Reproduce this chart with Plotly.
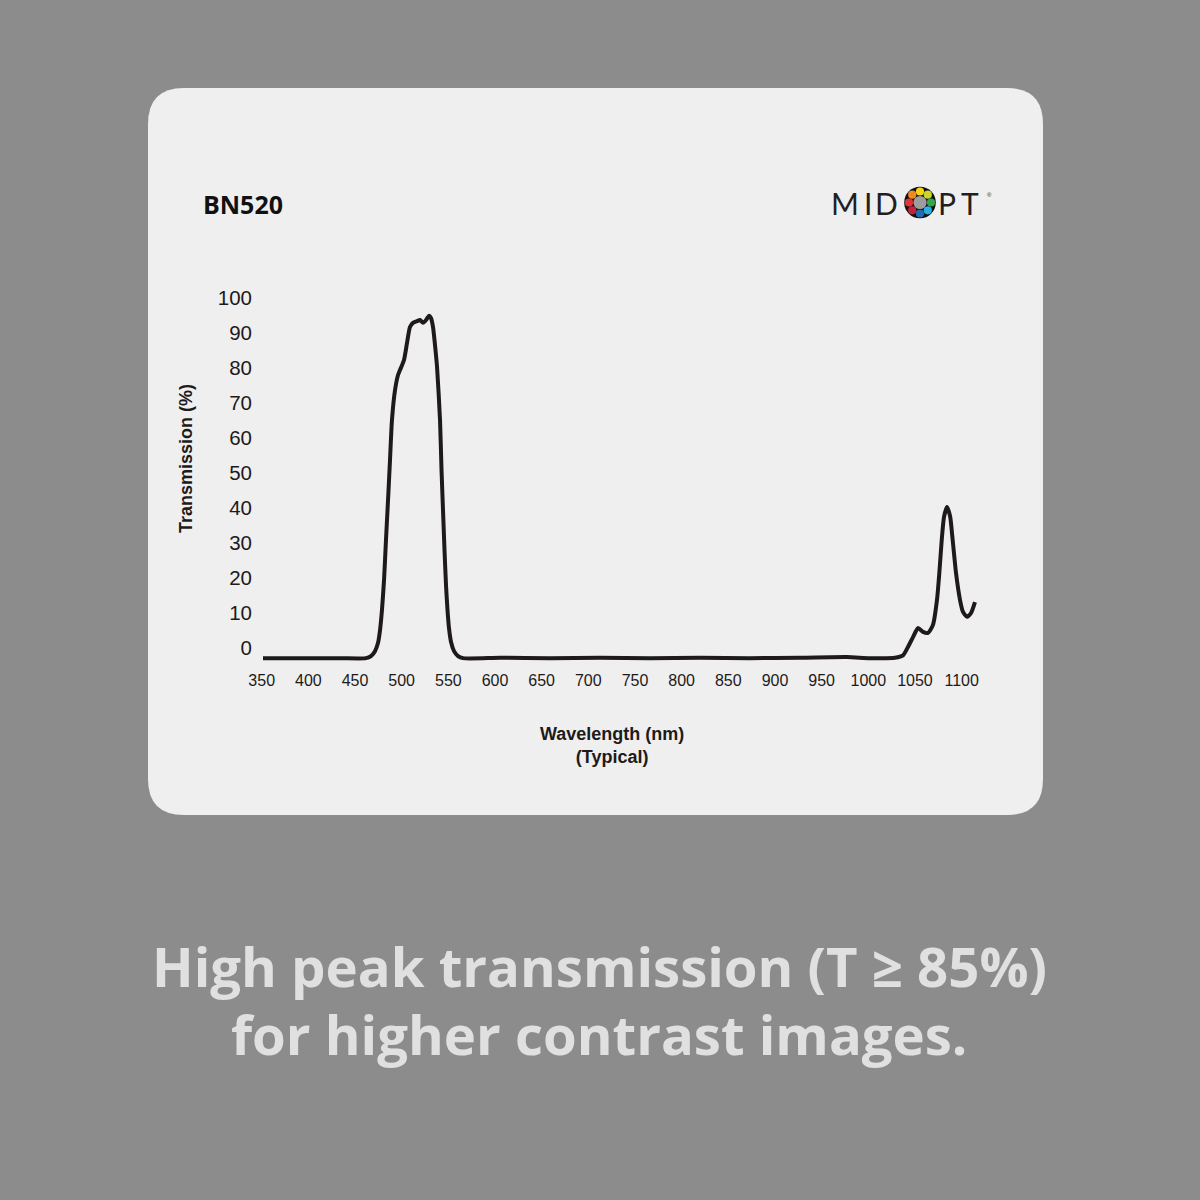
import math
import plotly.graph_objects as go

# ---------------- data ----------------
wavelength_nm = [351.4, 391.1, 433.9, 461.8, 467.1, 471.4, 474.6, 476.8, 478.9, 481.1, 483.2,
                 485.4, 487.5, 489.6, 492.9, 496.1, 498.2, 502.5, 505.7, 508.9, 512.1, 516.4,
                 519.6, 522.9, 526.1, 529.3, 531.4, 533.6, 535.7, 537.9, 541.1, 542.7, 544.3,
                 545.9, 547.5, 549.1, 550.7, 552.9, 556.1, 560.4, 565.7, 605.4, 658.9, 712.5,
                 766.1, 819.7, 873.2, 926.8, 977.2, 1001.8, 1028.6, 1037.2, 1042.5, 1047.9,
                 1053.3, 1058.6, 1064.0, 1069.3, 1073.6, 1076.1, 1078.7, 1081.1, 1084.3,
                 1087.6, 1090.4, 1094.0, 1098.3, 1101.5, 1105.8, 1110.1, 1114.3]
transmission_pct = [-2.9, -2.9, -2.9, -2.9, -2.3, -0.9, 1.4, 5.1, 10.9, 19.4, 30.9,
                    42.3, 53.7, 65.1, 73.7, 78.0, 79.4, 82.3, 87.1, 91.7, 92.9, 93.4,
                    93.7, 92.9, 93.7, 94.9, 94.3, 91.7, 86.6, 80.3, 65.1, 50.9, 39.4,
                    28.0, 18.0, 10.9, 5.7, 1.7, -0.9, -2.3, -2.9, -2.8, -2.9, -2.8,
                    -2.9, -2.8, -2.9, -2.8, -2.6, -2.9, -2.8, -2.1, 0.3, 3.1,
                    5.7, 4.6, 4.3, 6.6, 13.7, 21.4, 30.9, 37.4, 40.3,
                    37.7, 30.9, 21.4, 13.7, 10.3, 8.9, 10.0, 13.1]

x_ticks = [350, 400, 450, 500, 550, 600, 650, 700, 750, 800, 850, 900, 950, 1000, 1050, 1100]
y_ticks = [0, 10, 20, 30, 40, 50, 60, 70, 80, 90, 100]

title_text = "BN520"
x_title = "<b>Wavelength (nm)</b><br><b>(Typical)</b>"
y_title = "<b>Transmission (%)</b>"
caption_lines = ["High peak transmission (T ≥ 85%)", "for higher contrast images."]

# ---------------- layout helpers ----------------
W = H = 1200
def X(px):
    return px / W
def Y(py):
    return 1 - py / H

BG = "#8c8c8c"
CARD = "#efefef"
INK = "#1e1a1a"

fig = go.Figure()
fig.add_trace(go.Scatter(
    x=wavelength_nm, y=transmission_pct, mode="lines",
    line=dict(color=INK, width=4, shape="spline", smoothing=0.6),
    hoverinfo="skip", showlegend=False,
))

# rounded card
cx0, cy0, cx1, cy1, r = 148, 88, 1043, 815, 36
path = (f"M {X(cx0+r)} {Y(cy0)} L {X(cx1-r)} {Y(cy0)} "
        f"Q {X(cx1)} {Y(cy0)} {X(cx1)} {Y(cy0+r)} L {X(cx1)} {Y(cy1-r)} "
        f"Q {X(cx1)} {Y(cy1)} {X(cx1-r)} {Y(cy1)} L {X(cx0+r)} {Y(cy1)} "
        f"Q {X(cx0)} {Y(cy1)} {X(cx0)} {Y(cy1-r)} L {X(cx0)} {Y(cy0+r)} "
        f"Q {X(cx0)} {Y(cy0)} {X(cx0+r)} {Y(cy0)} Z")
shapes = [dict(type="path", path=path, xref="paper", yref="paper",
               fillcolor=CARD, line=dict(width=0), layer="below")]

# MIDOPT logo dot ring
lx, ly = 920, 202.5
def circ(cx, cy, rad, color):
    return dict(type="circle", xref="paper", yref="paper",
                x0=X(cx - rad), x1=X(cx + rad), y0=Y(cy + rad), y1=Y(cy - rad),
                fillcolor=color, line=dict(color=color, width=0), layer="above")
shapes.append(circ(lx, ly, 15.8, "#111111"))
shapes.append(circ(lx, ly, 6.6, "#9d9d9d"))
dot_colors = ["#f5d316", "#c7d52c", "#2ea84b", "#27aee3", "#1f6cb5", "#c2243c", "#e23437", "#f08a1f"]
for i, c in enumerate(dot_colors):
    ang = math.pi / 2 - i * math.pi / 4
    shapes.append(circ(lx + 11.0 * math.cos(ang), ly - 11.0 * math.sin(ang), 4.1, c))

annotations = []
def txt(s, px, py, size, color=INK, family="Liberation Sans", xanchor="center", yanchor="middle", angle=0):
    annotations.append(dict(text=s, x=X(px), y=Y(py), xref="paper", yref="paper",
                            showarrow=False, xanchor=xanchor, yanchor=yanchor, textangle=angle,
                            font=dict(size=size, color=color, family=family)))

txt("<b>" + title_text + "</b>", 201, 204, 25, color="#111111", family="Open Sans", xanchor="left")
for ch, px in zip(["M", "I", "D", "P", "T"], [845, 868, 886, 947, 970]):
    txt(ch, px, 203, 30, color="#231f20", family="Lato")
txt("®", 989, 195, 6, color="#231f20")
txt(y_title, 186, 459, 18, angle=-90)
txt(x_title, 612, 745, 18)
txt("<b>" + caption_lines[0] + "</b>", 599, 966, 54.5, color="#e0e0e0", family="Open Sans")
txt("<b>" + caption_lines[1] + "</b>", 599, 1034, 54.5, color="#e0e0e0", family="Open Sans")

# axis geometry: px(nm) = 611.65 + 0.93325*(nm-725); y: 0 -> 648px, 3.5 px per unit
x_range = [340, 1120]
y_range = [-6, 104]
x_dom = [X(611.65 + 0.93325 * (x_range[0] - 725)), X(611.65 + 0.93325 * (x_range[1] - 725))]
y_dom = [Y(648 - 3.5 * y_range[0]), Y(648 - 3.5 * y_range[1])]

fig.update_layout(
    width=W, height=H, margin=dict(l=0, r=0, t=0, b=0),
    paper_bgcolor=BG, plot_bgcolor="rgba(0,0,0,0)",
    shapes=shapes, annotations=annotations, showlegend=False,
    xaxis=dict(domain=x_dom, range=x_range, tickvals=x_ticks, showgrid=False, zeroline=False,
               showline=False, ticks="", tickfont=dict(family="Liberation Sans", size=16, color=INK),
               automargin=False, fixedrange=True),
    yaxis=dict(domain=y_dom, range=y_range, tickvals=y_ticks, showgrid=False, zeroline=False,
               showline=False, ticks="", anchor="free", position=X(252),
               tickfont=dict(family="Liberation Sans", size=20.5, color=INK),
               automargin=False, fixedrange=True),
)

fig.write_html("out.html", config={"displayModeBar": False},
               post_script="document.body.style.margin='0px';")
